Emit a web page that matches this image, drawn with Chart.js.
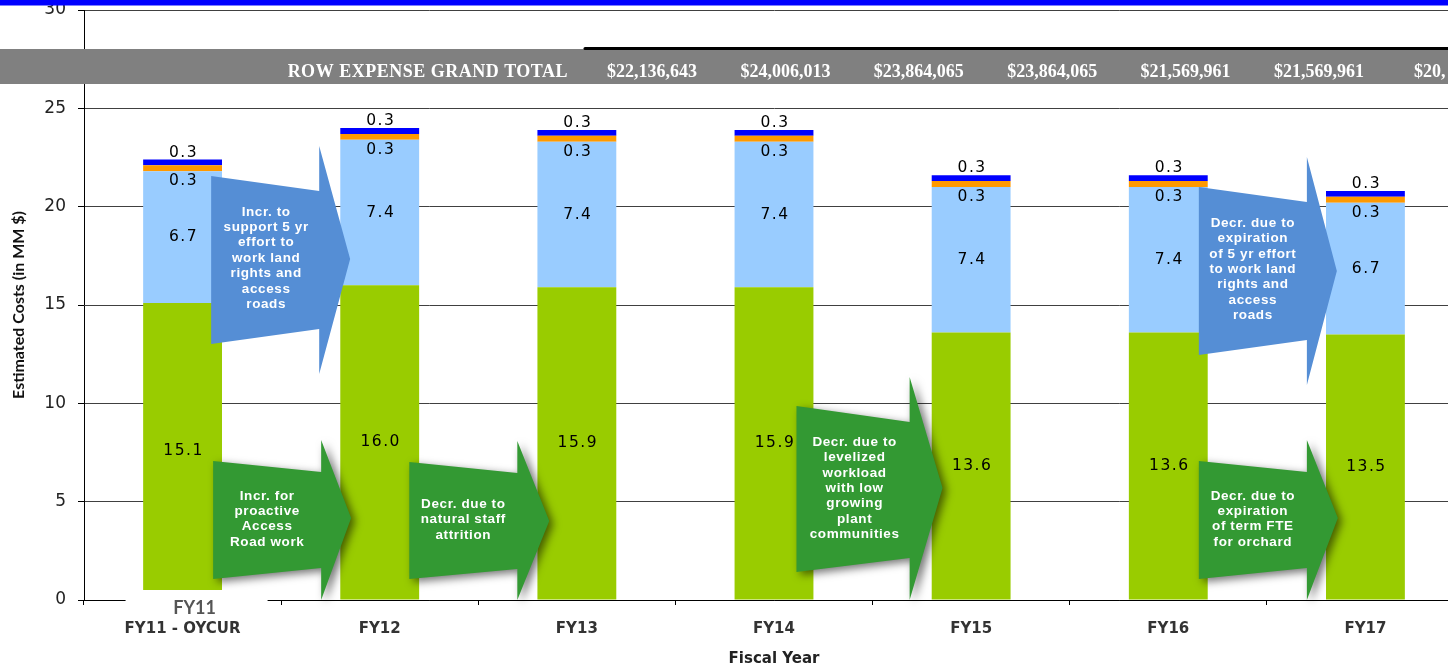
<!DOCTYPE html>
<html>
<head>
<meta charset="utf-8">
<title>ROW Expense by Fiscal Year</title>
<script src="https://cdn.jsdelivr.net/npm/chart.js@4.4.1/dist/chart.umd.min.js"></script>
<style>
  html, body { margin: 0; padding: 0; background: #fff; overflow: hidden; }
  #wrap { width: 1470px; height: 668px; }
</style>
</head>
<body>
<div id="wrap"><canvas id="rowChart" width="1470" height="668"></canvas></div>
<script>
// Values in MM $
const fiscalYears = ['FY11 - OYCUR', 'FY12', 'FY13', 'FY14', 'FY15', 'FY16', 'FY17'];
const baseCosts = [15.1, 16.0, 15.9, 15.9, 13.6, 13.6, 13.5];
const landRightsCosts = [6.7, 7.4, 7.4, 7.4, 7.4, 7.4, 6.7];
const orangeCosts = [0.3, 0.3, 0.3, 0.3, 0.3, 0.3, 0.3];
const blueCosts = [0.3, 0.3, 0.3, 0.3, 0.3, 0.3, 0.3];

const grandTotalTitle = 'ROW EXPENSE GRAND TOTAL';
const grandTotals = ['$22,136,643', '$24,006,013', '$23,864,065', '$23,864,065', '$21,569,961', '$21,569,961', '$20,'];
const boxLabel = 'FY11';

const noteTexts = [
    ['Incr. to', 'support 5 yr', 'effort to', 'work land', 'rights and', 'access', 'roads'],
    ['Incr. for', 'proactive', 'Access', 'Road work'],
    ['Decr. due to', 'natural staff', 'attrition'],
    ['Decr. due to', 'levelized', 'workload', 'with low', 'growing', 'plant', 'communities'],
    ['Decr. due to', 'expiration', 'of 5 yr effort', 'to work land', 'rights and', 'access', 'roads'],
    ['Decr. due to', 'expiration', 'of term FTE', 'for orchard']
];

// Arrow shapes, in axis units (x = category index, y = MM $)
const BLUE_ARROW = '#558ED5';
const GREEN_ARROW = '#339933';
const noteArrows = [
    { color: BLUE_ARROW, shadow: false, x: [0.145, 0.693, 0.850], left: [21.56, 13.02], right: [20.80, 13.78], head: [23.08, 11.49], tip: 17.34, text: [0.424, 19.73] },
    { color: GREEN_ARROW, shadow: true, x: [0.155, 0.703, 0.855], left: [7.07, 1.07], right: [6.51, 1.63], head: [8.14, 0], tip: 4.17, text: [0.429, 5.29] },
    { color: GREEN_ARROW, shadow: true, x: [1.150, 1.698, 1.860], left: [7.02, 1.07], right: [6.46, 1.58], head: [8.08, 0], tip: 4.02, text: [1.424, 4.88] },
    { color: GREEN_ARROW, shadow: true, x: [3.114, 3.688, 3.855], left: [9.86, 1.42], right: [9.05, 2.14], head: [11.34, 0], tip: 5.69, text: [3.409, 8.03] },
    { color: BLUE_ARROW, shadow: false, x: [5.155, 5.703, 5.855], left: [21.0, 12.46], right: [20.24, 13.22], head: [22.53, 10.93], tip: 16.73, text: [5.429, 19.17] },
    { color: GREEN_ARROW, shadow: true, x: [5.155, 5.703, 5.860], left: [7.07, 1.07], right: [6.51, 1.63], head: [8.14, 0], tip: 4.17, text: [5.429, 5.29] }
];

// Gray "grand total" band, blue strip and the FY11 box
const headerPlugin = {
    id: 'headerPlugin',
    afterDraw(chart) {
        const ctx = chart.ctx;
        const W = chart.width;
        const xs = chart.scales.x;
        const ys = chart.scales.y;
        ctx.save();

        ctx.fillStyle = '#808080';
        ctx.fillRect(0, 49, W, 35);
        ctx.strokeStyle = '#000';
        ctx.lineWidth = 3;
        ctx.lineCap = 'round';
        ctx.beginPath();
        ctx.moveTo(585, 48.5);
        ctx.lineTo(W, 48.5);
        ctx.stroke();

        ctx.fillStyle = '#0000FF';
        ctx.fillRect(0, 0, W, 5.5);

        ctx.fillStyle = '#fff';
        ctx.font = 'bold 18px "Liberation Serif"';
        ctx.textBaseline = 'middle';
        ctx.textAlign = 'right';
        ctx.letterSpacing = '0.5px';
        ctx.fillText(grandTotalTitle, 568, 72);
        ctx.letterSpacing = '0px';
        ctx.textAlign = 'center';
        grandTotals.forEach((t, i) => {
            if (i === grandTotals.length - 1) {
                ctx.textAlign = 'left';
                ctx.fillText(t, 1414, 72);
            } else {
                ctx.fillText(t, 652 + i * 133.4, 72);
            }
        });

        // box over the bottom of the first bar
        const y0 = ys.getPixelForValue(0);
        const cx = xs.getPixelForValue(0);
        ctx.fillStyle = '#fff';
        ctx.fillRect(cx - 57, y0 - 10, 142, 28);
        ctx.fillStyle = '#555';
        ctx.font = 'bold 18px Lato';
        ctx.textAlign = 'center';
        ctx.fillText(boxLabel, cx + 12, y0 + 8);

        ctx.restore();
    }
};

// Block arrows with their notes
const arrowPlugin = {
    id: 'arrowPlugin',
    afterDatasetsDraw(chart) {
        const ctx = chart.ctx;
        const xs = chart.scales.x;
        const ys = chart.scales.y;
        const X = v => xs.getPixelForValue(v);
        const Y = v => ys.getPixelForValue(v);

        noteArrows.forEach((a, i) => {
            ctx.save();
            if (a.shadow) {
                ctx.shadowColor = 'rgba(0,0,0,0.55)';
                ctx.shadowBlur = 8;
                ctx.shadowOffsetX = 4;
                ctx.shadowOffsetY = 3;
            }
            ctx.fillStyle = a.color;
            ctx.beginPath();
            ctx.moveTo(X(a.x[0]), Y(a.left[0]));
            ctx.lineTo(X(a.x[1]), Y(a.right[0]));
            ctx.lineTo(X(a.x[1]), Y(a.head[0]));
            ctx.lineTo(X(a.x[2]), Y(a.tip));
            ctx.lineTo(X(a.x[1]), Y(a.head[1]));
            ctx.lineTo(X(a.x[1]), Y(a.right[1]));
            ctx.lineTo(X(a.x[0]), Y(a.left[1]));
            ctx.closePath();
            ctx.fill();
            ctx.restore();

            ctx.save();
            ctx.fillStyle = '#fff';
            ctx.font = 'bold 13.5px "Liberation Sans"';
            ctx.letterSpacing = '0.6px';
            ctx.textAlign = 'center';
            ctx.textBaseline = 'middle';
            const tx = X(a.text[0]);
            const ty = Y(a.text[1]);
            noteTexts[i].forEach((line, k) => {
                ctx.fillText(line, tx, ty + k * 15.4);
            });
            ctx.restore();
        });
    }
};

// Segment values on the bars
const valueLabels = {
    id: 'valueLabels',
    afterDatasetsDraw(chart) {
        const ctx = chart.ctx;
        ctx.save();
        ctx.fillStyle = '#000';
        ctx.font = '15.5px "DejaVu Sans"';
        ctx.letterSpacing = '1.5px';
        ctx.textAlign = 'center';
        chart.data.datasets.forEach((ds, d) => {
            const meta = chart.getDatasetMeta(d);
            meta.data.forEach((el, i) => {
                const txt = ds.data[i].toFixed(1);
                const x = el.x + 1;
                if (d === 0 || d === 1) {
                    ctx.textBaseline = 'middle';
                    ctx.fillText(txt, x, (el.y + el.base) / 2);
                } else if (d === 2) {
                    ctx.textBaseline = 'middle';
                    ctx.fillText(txt, x, el.base + 10);
                } else {
                    ctx.textBaseline = 'bottom';
                    ctx.fillText(txt, x, el.y + 1);
                }
            });
        });
        ctx.restore();
    }
};

const ctx = document.getElementById('rowChart').getContext('2d');
new Chart(ctx, {
    type: 'bar',
    data: {
        labels: fiscalYears,
        datasets: [
            { label: 'Base', data: baseCosts, backgroundColor: '#99CC00' },
            { label: 'Land rights and access roads', data: landRightsCosts, backgroundColor: '#99CCFF' },
            { label: 'Orange', data: orangeCosts, backgroundColor: '#FF9900' },
            { label: 'Blue', data: blueCosts, backgroundColor: '#0000FF' }
        ]
    },
    options: {
        responsive: false,
        animation: false,
        maintainAspectRatio: false,
        layout: {
            padding: { left: 0, right: 6, top: 10, bottom: 0 }
        },
        datasets: {
            bar: { barPercentage: 0.4, categoryPercentage: 1.0 }
        },
        scales: {
            x: {
                stacked: true,
                afterFit: scale => { scale.height = 68; },
                grid: {
                    offset: true,
                    drawOnChartArea: false,
                    tickLength: 5,
                    color: '#000'
                },
                border: { color: '#000', width: 1 },
                ticks: {
                    padding: 15,
                    color: '#333',
                    font: { family: 'DejaVu Sans', size: 15, weight: 'bold' }
                },
                title: {
                    display: true,
                    text: 'Fiscal Year',
                    color: '#222',
                    padding: { top: 0, bottom: 0 },
                    font: { family: 'DejaVu Sans', size: 15, weight: 'bold' }
                }
            },
            y: {
                stacked: true,
                min: 0,
                max: 30,
                afterFit: scale => {
                    scale.width = 84;
                    scale.paddingTop = 0;
                    scale.paddingBottom = 0;
                },
                grid: {
                    color: '#404040',
                    tickColor: '#000',
                    tickLength: 6
                },
                border: { color: '#000', width: 1 },
                ticks: {
                    stepSize: 5,
                    padding: 12,
                    color: '#222',
                    font: { family: 'DejaVu Sans', size: 17 }
                },
                title: {
                    display: true,
                    text: 'Estimated Costs (in MM $)',
                    color: '#111',
                    padding: { top: 9, bottom: 0 },
                    font: { family: 'Lato', size: 16, weight: 'bold' }
                }
            }
        },
        plugins: {
            legend: { display: false },
            tooltip: { enabled: false }
        }
    },
    plugins: [valueLabels, arrowPlugin, headerPlugin]
});
</script>
</body>
</html>
